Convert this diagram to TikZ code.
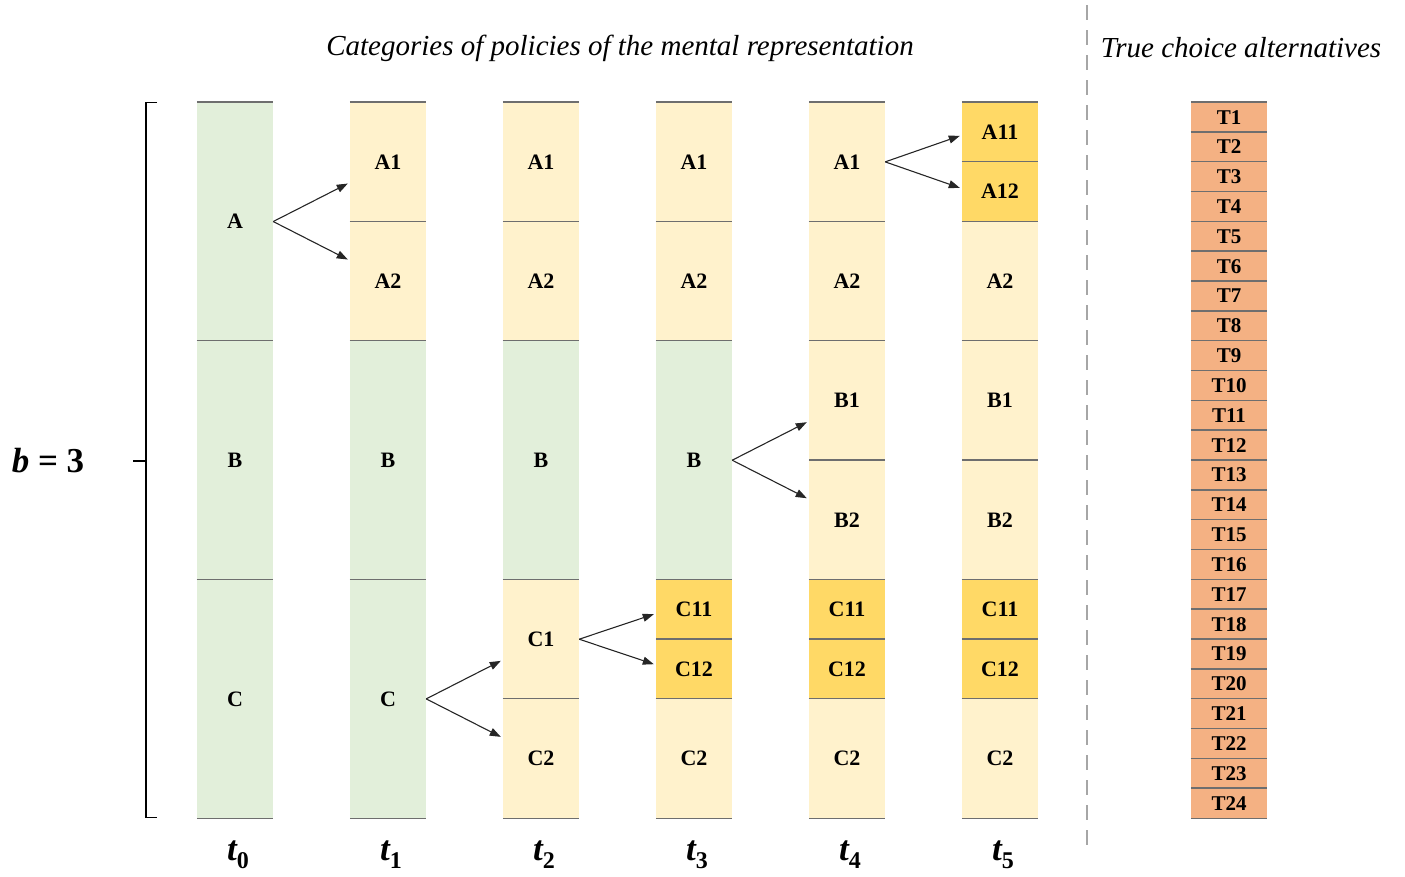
\documentclass[tikz,border=0pt]{standalone}
\usepackage{fontspec}
\setmainfont{Liberation Serif}
\usetikzlibrary{arrows.meta,calc}

\definecolor{cgreen}{HTML}{E2EFDA}
\definecolor{cpale}{HTML}{FFF2CC}
\definecolor{cgold}{HTML}{FFD966}
\definecolor{corange}{HTML}{F4B183}
\definecolor{cline}{HTML}{6E6E6E}

\tikzset{
  sepline/.style={draw=cline,line width=1.6pt},
  cell/.style={inner sep=0pt,minimum width=76pt,anchor=north,
    font=\fontsize{22}{22}\selectfont\bfseries,
    append after command={
      (\tikzlastnode.north west) edge[sepline] (\tikzlastnode.north east)
      (\tikzlastnode.south west) edge[sepline] (\tikzlastnode.south east)}},
  arr/.style={draw=black!85,line width=1.1pt,-{Triangle[length=11pt,width=8pt]}},
  title/.style={font=\fontsize{29}{29}\selectfont\itshape},
  tlabel/.style={inner sep=0pt},
  splitline/.style={draw=black!35,line width=1.8pt,dash pattern=on 15pt off 10pt},
  brace/.style={draw=black,line width=1.4pt}
}

% \cell{name}{x}{top}{height}{fill}{text}
\newcommand\cell[6]{\node[cell,fill=#5,minimum height=#4pt] (#1) at (#2,#3) {#6};}
% arrows from a cell to the upper and lower halves of its split
\newcommand\forkarrows[4]{%
  \draw[arr] (#1.east) -- ($(#2.west |- #1.east)+(-2,-#4)$);
  \draw[arr] (#1.east) -- ($(#3.west |- #1.east)+(-2,#4)$);}
% time label t_i
\newcommand\tstep[1]{{\fontsize{35}{35}\selectfont\bfseries\itshape t}\raisebox{-8pt}{\fontsize{24}{24}\selectfont\bfseries #1}}

\begin{document}
\begin{tikzpicture}[x=1pt,y=-1pt]
\useasboundingbox (0,0) rectangle (1405,876);

% column t0
\cell{t0A}{235}{102}{238.67}{cgreen}{A}
\cell{t0B}{235}{340.67}{238.67}{cgreen}{B}
\cell{t0C}{235}{579.33}{238.67}{cgreen}{C}
% column t1
\cell{t1A1}{388}{102}{119.33}{cpale}{A1}
\cell{t1A2}{388}{221.33}{119.33}{cpale}{A2}
\cell{t1B}{388}{340.67}{238.67}{cgreen}{B}
\cell{t1C}{388}{579.33}{238.67}{cgreen}{C}
% column t2
\cell{t2A1}{541}{102}{119.33}{cpale}{A1}
\cell{t2A2}{541}{221.33}{119.33}{cpale}{A2}
\cell{t2B}{541}{340.67}{238.67}{cgreen}{B}
\cell{t2C1}{541}{579.33}{119.33}{cpale}{C1}
\cell{t2C2}{541}{698.67}{119.33}{cpale}{C2}
% column t3
\cell{t3A1}{694}{102}{119.33}{cpale}{A1}
\cell{t3A2}{694}{221.33}{119.33}{cpale}{A2}
\cell{t3B}{694}{340.67}{238.67}{cgreen}{B}
\cell{t3C11}{694}{579.33}{59.67}{cgold}{C11}
\cell{t3C12}{694}{639}{59.67}{cgold}{C12}
\cell{t3C2}{694}{698.67}{119.33}{cpale}{C2}
% column t4
\cell{t4A1}{847}{102}{119.33}{cpale}{A1}
\cell{t4A2}{847}{221.33}{119.33}{cpale}{A2}
\cell{t4B1}{847}{340.67}{119.33}{cpale}{B1}
\cell{t4B2}{847}{460}{119.33}{cpale}{B2}
\cell{t4C11}{847}{579.33}{59.67}{cgold}{C11}
\cell{t4C12}{847}{639}{59.67}{cgold}{C12}
\cell{t4C2}{847}{698.67}{119.33}{cpale}{C2}
% column t5
\cell{t5A11}{1000}{102}{59.67}{cgold}{A11}
\cell{t5A12}{1000}{161.67}{59.67}{cgold}{A12}
\cell{t5A2}{1000}{221.33}{119.33}{cpale}{A2}
\cell{t5B1}{1000}{340.67}{119.33}{cpale}{B1}
\cell{t5B2}{1000}{460}{119.33}{cpale}{B2}
\cell{t5C11}{1000}{579.33}{59.67}{cgold}{C11}
\cell{t5C12}{1000}{639}{59.67}{cgold}{C12}
\cell{t5C2}{1000}{698.67}{119.33}{cpale}{C2}

% splitting arrows
\forkarrows{t0A}{t1A1}{t1A2}{38}
\forkarrows{t1C}{t2C1}{t2C2}{38}
\forkarrows{t2C1}{t3C11}{t3C12}{25}
\forkarrows{t3B}{t4B1}{t4B2}{38}
\forkarrows{t4A1}{t5A11}{t5A12}{26}

% true choice alternatives
\foreach \i in {1,...,24}{
  \pgfmathsetmacro{\ty}{102+(\i-1)*29.833}
  \node[cell,fill=corange,minimum height=29.833pt,font=\fontsize{21}{21}\selectfont\bfseries] (T\i) at (1229,\ty) {T\i};
}

% time labels
\foreach \i in {0,...,5}{
  \node[tlabel] (lab\i) at (238+153*\i,855) {\tstep{\i}};
}

% bracket with b = 3
\draw[brace] (157,102.5) -- (146,102.5) -- (146,817.5) -- (157,817.5);
\draw[brace] (146,461) -- (133,461);
\node (bval) at (48,461) {\fontsize{35}{35}\selectfont{\bfseries\itshape b} \bfseries = 3};

% titles and divider
\node[title] (ttl) at (620,48) {Categories of policies of the mental representation};
\node[title] (ttr) at (1241,48) {True choice alternatives};
\draw[splitline] (1087,5) -- (1087,850);

\end{tikzpicture}
\end{document}
